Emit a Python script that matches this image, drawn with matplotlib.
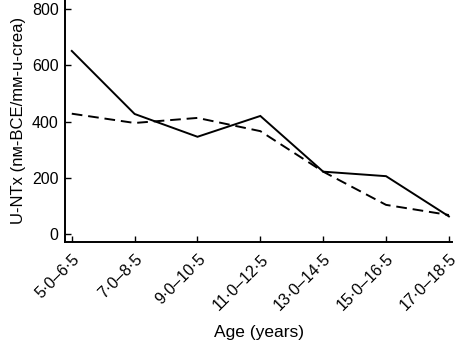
import numpy as np
import matplotlib
matplotlib.use('Agg')
import matplotlib.pyplot as plt

plt.rcParams['font.family'] = ['Liberation Sans', 'DejaVu Sans']

#%% data
age_groups = ['5·0–6·5', '7·0–8·5', '9·0–10·5', '11·0–12·5',
              '13·0–14·5', '15·0–16·5', '17·0–18·5']
solid_vals = [651, 427, 346, 420, 222, 206, 63]
dashed_vals = [428, 395, 413, 366, 222, 104, 68]
yticks = [0, 200, 400, 600, 800]

#%% plot
fig = plt.figure(figsize=(4.58, 3.40), dpi=100)
ax = fig.add_axes([0.143, 0.289, 0.844, 0.711])
x = np.arange(len(age_groups))
ax.plot(x, solid_vals, c='k', lw=1.4, solid_joinstyle='miter')
ax.plot(x, dashed_vals, c='k', lw=1.4, dashes=(5.5, 3))

ax.set_xlim(-0.1, 6.05)
ax.set_ylim(-27, 832)
ax.set_yticks(yticks)
ax.set_xticks(x)
ax.set_xticklabels(age_groups, rotation=45, ha='right', va='top',
                   rotation_mode='anchor')
ax.tick_params(direction='in', length=4, width=1, labelsize=11.5, pad=5)
ax.tick_params(axis='x', pad=7)
for s in ['top', 'right']:
    ax.spines[s].set_visible(False)
for s in ['left', 'bottom']:
    ax.spines[s].set_linewidth(1.4)

ax.set_xlabel('Age (years)', fontsize=12.5, labelpad=8)
ax.set_ylabel('U-NTx (nм-BCE/mм-u-crea)', fontsize=12, labelpad=4)

plt.savefig('out.png', dpi=100)
